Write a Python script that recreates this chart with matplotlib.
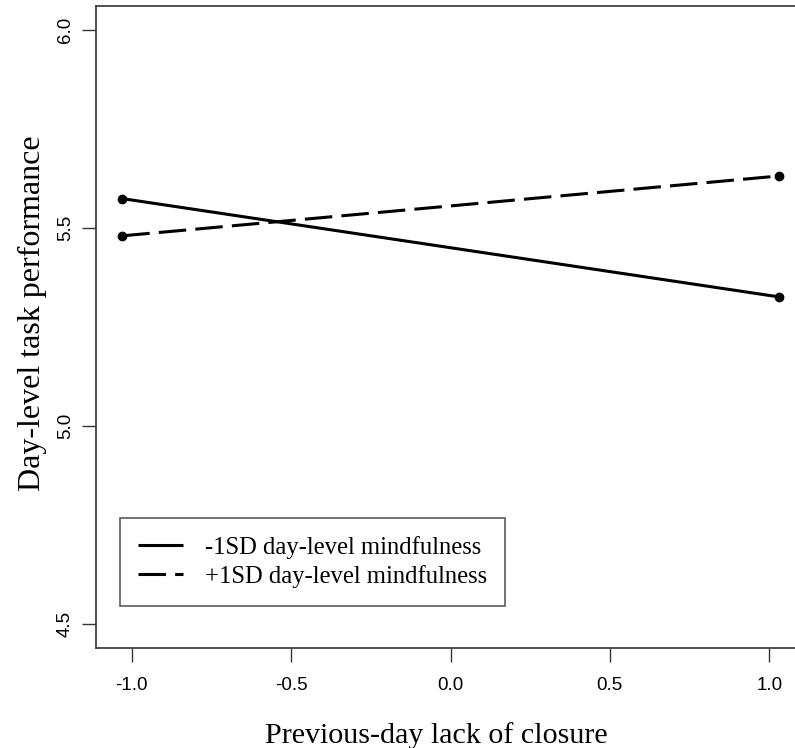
import matplotlib
matplotlib.use("Agg")
import matplotlib.pyplot as plt

# simple slopes at -1SD / +1SD of previous-day lack of closure
closure = [-1.03, 1.03]
low_mindfulness = [5.574, 5.326]   # -1SD day-level mindfulness
high_mindfulness = [5.480, 5.631]  # +1SD day-level mindfulness

x_ticks = [-1.0, -0.5, 0.0, 0.5, 1.0]
y_ticks = [4.5, 5.0, 5.5, 6.0]

SERIF = "Liberation Serif"
SANS = "Liberation Sans"

fig = plt.figure(figsize=(7.95, 7.48), dpi=100)
ax = fig.add_axes([0.1208, 0.1337, 0.8918, 0.8583])

ax.plot(closure, low_mindfulness, color="black", lw=2.2, marker="o", ms=6,
        solid_capstyle="butt", label="-1SD day-level mindfulness")
ax.plot(closure, high_mindfulness, color="black", lw=2.2, marker="o", ms=6,
        linestyle=(0, (9, 3)), label="+1SD day-level mindfulness")

ax.set_xlim(-1.1124, 1.1124)
ax.set_ylim(4.44, 6.06)

ax.set_xticks(x_ticks)
ax.set_xticklabels([f"{t:.1f}" for t in x_ticks], fontfamily=SANS, fontsize=13.5)
ax.set_yticks(y_ticks)
ax.set_yticklabels([f"{t:.1f}" for t in y_ticks], fontfamily=SANS, fontsize=13.5,
                   rotation=90, va="center")
ax.tick_params(axis="both", length=10, width=1, color="#333333", pad=6)
ax.tick_params(axis="x", pad=11)

for s in ax.spines.values():
    s.set_linewidth(1.2)
    s.set_color("#333333")
ax.spines["right"].set_visible(False)

ax.set_xlabel("Previous-day lack of closure", fontfamily=SERIF, fontsize=21.6)
ax.set_ylabel("Day-level task performance", fontfamily=SERIF, fontsize=23)
ax.xaxis.set_label_coords(0.480, -0.115)
ax.yaxis.set_label_coords(-0.069, 0.522)

leg = ax.legend(loc="upper left", bbox_to_anchor=(0.0339, 0.2025), borderaxespad=0,
                frameon=True, fancybox=False, edgecolor="#333333", handlelength=1.85,
                handletextpad=0.9, borderpad=0.72, labelspacing=0.25,
                prop={"family": SERIF, "size": 17.7})
leg.get_frame().set_linewidth(1.2)
for h in leg.legend_handles:
    h.set_marker("")

fig.savefig("out.png", dpi=100)
